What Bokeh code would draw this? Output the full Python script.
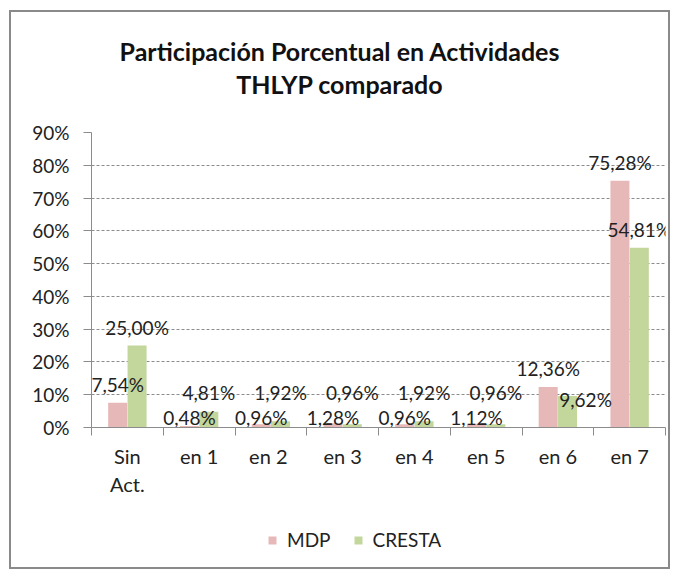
import numpy as np
from bokeh.plotting import figure
from bokeh.layouts import column
from bokeh.models import (ColumnDataSource, FixedTicker, NumeralTickFormatter, Div,
                          Legend, LegendItem, Range1d)
from bokeh.embed import file_html
from bokeh.resources import INLINE
from bokeh.core.properties import value

# ---- data ----
categories = ["Sin\nAct.", "en 1", "en  2", "en 3", "en 4", "en 5", "en 6", "en 7"]
mdp = [7.54, 0.48, 0.96, 1.28, 0.96, 1.12, 12.36, 75.28]
cresta = [25.00, 4.81, 1.92, 0.96, 1.92, 0.96, 9.62, 54.81]
series_names = ["MDP", "CRESTA"]
y_ticks = [0, 10, 20, 30, 40, 50, 60, 70, 80, 90]
title_lines = ["Participación Porcentual en Actividades", "THLYP comparado"]

FONT = "Lato"
C_MDP = "#E6B9B8"
C_CRESTA = "#C3D69B"
GRAY = "#8C8C8C"
TXT = "#222222"

n = len(categories)
centers = np.arange(n) + 0.5
bw = 0.265
off = 0.135

W, H0, H1, H2 = 657, 108, 379, 68

# ---- title block ----
title = Div(text=(f'<div style="width:{W}px;text-align:center;font-family:Lato;font-weight:bold;'
                  f'font-size:25px;line-height:33px;color:#111111;padding-top:23px;">'
                  + "<br>".join(title_lines) + "</div>"),
            width=W, height=H0, margin=0)

# ---- main chart ----
p = figure(width=W, height=H1, output_backend="svg", toolbar_location=None,
           x_range=Range1d(0, n), y_range=Range1d(0, max(y_ticks) / 100),
           min_border_left=80, min_border_right=3, min_border_top=12, min_border_bottom=72)
p.outline_line_color = None
p.background_fill_color = "white"
p.border_fill_color = "white"

src_m = ColumnDataSource(dict(x=centers - off, top=np.array(mdp) / 100))
src_c = ColumnDataSource(dict(x=centers + off, top=np.array(cresta) / 100))
p.vbar(x="x", top="top", width=bw, source=src_m, fill_color=C_MDP, line_color=None)
p.vbar(x="x", top="top", width=bw, source=src_c, fill_color=C_CRESTA, line_color=None)

# ---- value labels ----
def fmt(v):
    return f"{v:.2f}".replace(".", ",") + "%"

lab_x, lab_y, lab_t, lab_dx = [], [], [], []
for i in range(n):
    ym = mdp[i] + 5.5 if mdp[i] >= 5 else 3.0
    yc = max(cresta[i] + 5.5, 10.7)
    dxc = 0
    if abs(yc - ym) < 4:
        yc = cresta[i] - 1.1
        dxc = 18
    lab_x += [centers[i] - off, centers[i] + off]
    lab_y += [ym / 100, yc / 100]
    lab_t += [fmt(mdp[i]), fmt(cresta[i])]
    lab_dx += [0, dxc]

src_l = ColumnDataSource(dict(x=lab_x, y=lab_y, text=lab_t, dx=lab_dx))
p.text(x="x", y="y", text="text", x_offset="dx", source=src_l, text_align="center",
       text_baseline="alphabetic", text_font=value(FONT), text_font_size="19px",
       text_color=TXT)

# ---- axes ----
p.xgrid.visible = False
p.ygrid.ticker = FixedTicker(ticks=[t / 100 for t in y_ticks])
p.ygrid.grid_line_color = GRAY
p.ygrid.grid_line_dash = "3 2"
p.ygrid.grid_line_width = 1

xa = p.xaxis[0]
xa.ticker = FixedTicker(ticks=list(centers), minor_ticks=list(range(n + 1)))
xa.major_label_overrides = {float(c): lab for c, lab in zip(centers, categories)}
xa.major_tick_line_color = None
xa.minor_tick_line_color = GRAY
xa.minor_tick_out = 8
xa.minor_tick_in = 0
xa.axis_line_color = GRAY
xa.major_label_text_font = FONT
xa.major_label_text_font_size = "20px"
xa.major_label_text_color = TXT
xa.major_label_standoff = 8

ya = p.yaxis[0]
ya.ticker = FixedTicker(ticks=[t / 100 for t in y_ticks])
ya.formatter = NumeralTickFormatter(format="0%")
ya.major_tick_out = 8
ya.major_tick_in = 0
ya.minor_tick_line_color = None
ya.major_tick_line_color = GRAY
ya.axis_line_color = GRAY
ya.major_label_text_font = FONT
ya.major_label_text_font_size = "19px"
ya.major_label_text_color = TXT
ya.major_label_standoff = 14

# ---- legend strip below the chart ----
pl = figure(width=W, height=H2, output_backend="svg", toolbar_location=None,
            x_range=Range1d(0, 1), y_range=Range1d(0, 1), min_border=0,
            x_axis_location=None, y_axis_location=None)
pl.outline_line_color = None
pl.grid.visible = False
# legend proxies (kept outside the visible range of this strip)
lm = pl.vbar(x=[-5], top=[-5], width=0.1, fill_color=C_MDP, line_color=None)
lc = pl.vbar(x=[-5], top=[-5], width=0.1, fill_color=C_CRESTA, line_color=None)
legend = Legend(items=[LegendItem(label=series_names[0], renderers=[lm]),
                       LegendItem(label=series_names[1], renderers=[lc])],
                orientation="horizontal", location=(176, 16),
                label_text_font=FONT, label_text_font_size="19px", label_text_color=TXT,
                glyph_width=10, glyph_height=10, spacing=22, label_standoff=10,
                padding=0, margin=0, border_line_color=None, background_fill_alpha=0)
pl.add_layout(legend, "center")

lay = column(title, p, pl, spacing=0)
lay.styles = {"margin-left": "9px", "margin-top": "10px", "border": "2px solid #8A8A8A",
              "background-color": "white"}

open("out.html", "w").write(file_html(lay, INLINE))
